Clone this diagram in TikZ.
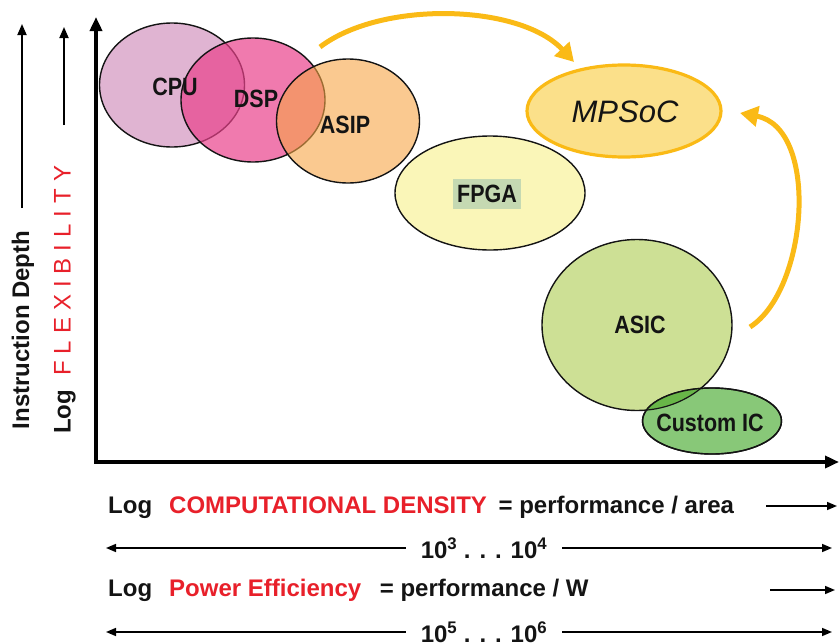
\documentclass[tikz,border=0pt]{standalone}
\usepackage{fontspec}
\setmainfont{Liberation Sans}
\usetikzlibrary{arrows.meta,shapes.geometric}

\definecolor{cpufill}{RGB}{214,155,195}
\definecolor{dspfill}{RGB}{233,65,139}
\definecolor{asipfill}{RGB}{246,165,70}
\definecolor{fpgafill}{RGB}{250,246,184}
\definecolor{fpgatag}{RGB}{197,217,178}
\definecolor{mpsocfill}{RGB}{251,224,138}
\definecolor{goldline}{RGB}{250,186,22}
\definecolor{asicfill}{RGB}{205,224,149}
\definecolor{cicfill}{RGB}{136,200,120}
\definecolor{cicdeep}{RGB}{104,182,72}
\definecolor{hot}{RGB}{232,32,42}
\definecolor{ink}{RGB}{20,20,20}

\newcommand\blobtext[1]{\scalebox{0.86}[1]{\fontsize{25}{28}\selectfont\bfseries #1}}

\tikzset{
  blob/.style={ellipse, draw=ink, line width=1.4pt, inner sep=0pt},
  blobname/.style={text=ink, inner sep=0pt},
  axisline/.style={line width=3.6pt, -{Triangle[length=14pt,width=12pt]}},
  sidearrow/.style={line width=1.8pt, -{Triangle[length=11pt,width=9pt]}},
  scalearrow/.style={line width=1.6pt, -{Triangle[length=10pt,width=8pt]}},
  goldarrow/.style={draw=goldline, line width=5pt, -{Triangle[length=18pt,width=20pt]}},
  scalecaption/.style={anchor=west, inner sep=0pt, font=\fontsize{24}{28}\selectfont\bfseries, text=ink},
  rangelabel/.style={inner sep=0pt, inner xsep=15pt, font=\fontsize{24}{28}\selectfont\bfseries, text=ink},
}

\begin{document}
\begin{tikzpicture}[x=1pt,y=-1pt]
\useasboundingbox (0,0) rectangle (839,643);

% ---- axes ----
\coordinate (origin) at (96,462);
\coordinate (ytip) at (96,17);
\coordinate (xtip) at (839,462);
\draw[axisline] (origin) -- (ytip);
\draw[axisline] ([xshift=-1.8pt]origin) -- (xtip);

% ---- vertical axis captions ----
\node[rotate=90, inner sep=0pt, font=\fontsize{24}{28}\selectfont\bfseries, text=ink]
  (depth) at (23,330) {Instruction Depth};
\coordinate (depthtop) at (22,24);
\coordinate (depthlow) at (22,208);
\draw[sidearrow] (depthlow) -- (depthtop);

\node[rotate=90, anchor=west, inner sep=0pt, font=\fontsize{24}{28}\selectfont, text=ink]
  (flex) at (65,434) {\bfseries Log\hspace{14pt}\mdseries\color{hot}F\hspace{7pt}L\hspace{7pt}E\hspace{7pt}X\hspace{7pt}I\hspace{7pt}B\hspace{7pt}I\hspace{7pt}L\hspace{7pt}I\hspace{7pt}T\hspace{7pt}Y};
\coordinate (flextop) at (64,27);
\coordinate (flexlow) at (64,125);
\draw[sidearrow] (flexlow) -- (flextop);

% ---- architecture ellipses ----
\node[blob, fill=cpufill, fill opacity=0.75, minimum width=145pt, minimum height=124pt] (cpu) at (172,85) {};
\node[blob, fill=dspfill, fill opacity=0.7, minimum width=144pt, minimum height=124pt] (dsp) at (253,100) {};
\node[blob, fill=asipfill, fill opacity=0.6, minimum width=143pt, minimum height=124pt] (asip) at (348,121) {};
\node[blob, fill=fpgafill, minimum width=190pt, minimum height=114pt] (fpga) at (490,193) {};
\node[ellipse, draw=goldline, line width=3.2pt, fill=mpsocfill, minimum width=194pt, minimum height=92pt] (mpsoc) at (624,111) {};
\node[blob, fill=asicfill, minimum width=190pt, minimum height=171pt] (asic) at (637,325) {};
\node[blob, fill=cicfill, minimum width=139pt, minimum height=66pt] (cic) at (712,421) {};

% darker lens where the two green ellipses overlap
\begin{scope}
  \clip (712,421) ellipse [x radius=69.5, y radius=33];
  \fill[cicdeep] (637,325) ellipse [x radius=95, y radius=85.5];
  \draw[ink, line width=1.2pt] (637,325) ellipse [x radius=95, y radius=85.5];
\end{scope}
\draw[ink, line width=1.4pt] (712,421) ellipse [x radius=69.5, y radius=33];

% ---- labels ----
\node[blobname] (cpulbl) at (175,87) {\blobtext{CPU}};
\node[blobname] (dsplbl) at (256,99) {\blobtext{DSP}};
\node[blobname] (asiplbl) at (345,125) {\blobtext{ASIP}};
\node[blobname, fill=fpgatag, inner xsep=4pt, inner ysep=6pt] (fpgalbl) at (487,194) {\blobtext{FPGA}};
\node[blobname] (mpsoclbl) at (625,112) {\fontsize{31}{34}\selectfont\itshape MPSoC};
\node[blobname] (asiclbl) at (640,325) {\blobtext{ASIC}};
\node[blobname] (ciclbl) at (710,423) {\blobtext{Custom IC}};

% ---- gold migration arrows ----
\coordinate (fromasip) at (320,47);
\coordinate (intompsoc) at (574,62);
\draw[goldarrow] (fromasip) .. controls (382,0) and (520,4) .. (intompsoc);
\coordinate (fromasic) at (750,327);
\coordinate (backmpsoc) at (740,113);
\draw[goldarrow] (fromasic) .. controls (808,290) and (820,128) .. (backmpsoc);

% ---- horizontal scales ----
\node[scalecaption] (density) at (108,507)
  {Log\hspace{17pt}{\color{hot}COMPUTATIONAL DENSITY}\hspace{5pt} = performance / area};
\coordinate (densA) at (766,506);
\coordinate (densB) at (837,506);
\draw[scalearrow] (densA) -- (densB);

\node[rangelabel] (rangeA) at (484,548) {10\textsuperscript{3} . . . 10\textsuperscript{4}};
\coordinate (rangeAleft) at (106,548);
\coordinate (rangeAright) at (832,548);
\draw[scalearrow] (rangeA.west) -- (rangeAleft);
\draw[scalearrow] (rangeA.east) -- (rangeAright);

\node[scalecaption] (power) at (108,590)
  {Log\hspace{17pt}{\color{hot}Power Efficiency}\hspace{12pt} = performance / W};
\coordinate (powA) at (770,590);
\coordinate (powB) at (835,590);
\draw[scalearrow] (powA) -- (powB);

\node[rangelabel] (rangeB) at (484,632) {10\textsuperscript{5} . . . 10\textsuperscript{6}};
\coordinate (rangeBleft) at (106,632);
\coordinate (rangeBright) at (832,632);
\draw[scalearrow] (rangeB.west) -- (rangeBleft);
\draw[scalearrow] (rangeB.east) -- (rangeBright);
\end{tikzpicture}
\end{document}
